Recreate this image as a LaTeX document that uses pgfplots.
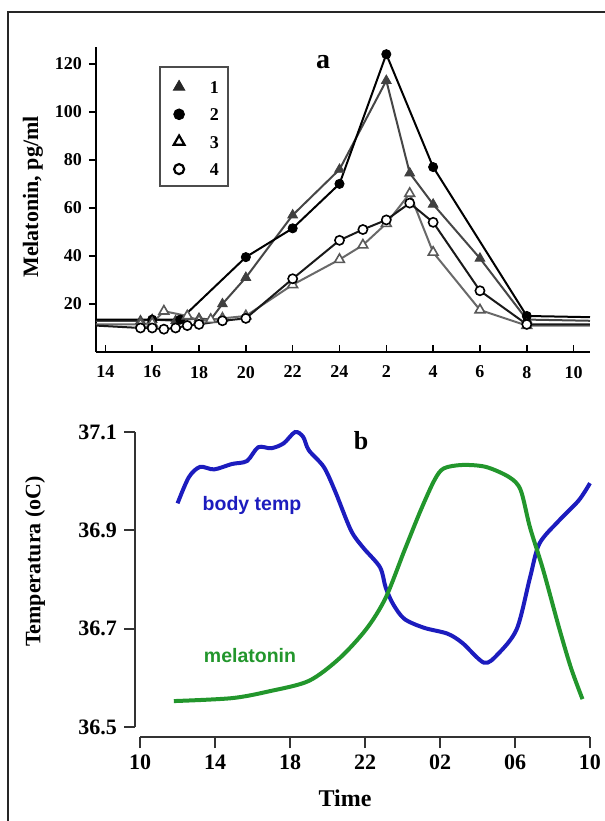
\documentclass[border=0pt]{standalone}
\usepackage{fontspec}
\setmainfont{Liberation Serif}
\newfontfamily\arial{Liberation Sans}
\usepackage{pgfplots}
\usepackage{pgfplotstable}
\pgfplotsset{compat=1.18}

\definecolor{tempblue}{RGB}{28,28,190}
\definecolor{melgreen}{RGB}{34,150,44}
\definecolor{lineA}{RGB}{70,70,70}
\definecolor{lineC}{RGB}{105,105,105}

% panel a: melatonin, pg/ml (x in hours, 26 = 02 h next day)
\pgfplotstableread{
x y
13.6 13
15.5 13
16 13.5
17 13
18 14
18.5 13.5
19 20
20 31
22 57
24 76
26 113
27 74.5
28 61.5
30 39
32 13.5
34.7 13
}\sA
\pgfplotstableread{
x y
13.6 13.5
16 13.5
17.2 13.5
20 39.5
22 51.5
24 70
26 124
28 77
32 15
34.7 14.5
}\sB
\pgfplotstableread{
x y
13.6 11.5
15.5 11.5
16 12
16.5 17
17.5 15
18 13
18.5 13.5
19 14
20 15
22 28
24 38.5
25 44.5
26 53.5
27 66
28 41.5
30 17.5
32 11
34.7 11
}\sC
\pgfplotstableread{
x y
13.6 11
15.5 10
16 10
16.5 9.5
17 10
17.5 11
18 11.5
19 13
20 14
22 30.5
24 46.5
25 51
26 55
27 62
28 54
30 25.5
32 11.5
34.7 11.5
}\sD

% panel b: body temperature and melatonin curve
\pgfplotstableread{
x y
12.0 36.955
12.6 37.008
13.2 37.029
13.95 37.024
14.9 37.035
15.7 37.041
16.3 37.069
17.0 37.067
17.66 37.077
18.27 37.100
18.7 37.090
19.0 37.063
19.8 37.029
20.4 36.980
21.25 36.900
21.9 36.865
22.8 36.825
23.1 36.784
23.5 36.750
24.1 36.720
25.15 36.702
26.4 36.690
27.2 36.671
28.35 36.631
29.1 36.649
30.1 36.700
30.8 36.804
31.3 36.873
32.35 36.920
33.4 36.961
34.0 36.996
}\temp
\pgfplotstableread{
x y
11.8 36.553
14.9 36.559
16.9 36.573
19.0 36.594
20.64 36.640
22.08 36.700
23.1 36.763
24.1 36.859
24.96 36.940
25.7 37.002
26.2 37.026
27.2 37.033
28.45 37.029
29.7 37.008
30.3 36.982
30.8 36.906
31.5 36.820
32.35 36.702
32.99 36.620
33.6 36.557
}\mel

\begin{document}
\begin{tikzpicture}[x=0.5pt,y=0.5pt]
\useasboundingbox (0,0) rectangle (605,821);
\draw[line width=1pt, black!85] (8,0) -- (8,809) -- (605,809);

\begin{axis}[
  at={(48pt,234.5pt)}, anchor=south west,
  scale only axis, width=247pt, height=152.5pt,
  xmin=13.6, xmax=34.7, ymin=0, ymax=127,
  axis x line*=bottom, axis y line*=left,
  axis line style={line width=1pt, black, -},
  xtick={14,16,...,34},
  xticklabels={14,16,18,20,22,24,2,4,6,8,10},
  ytick={20,40,...,120},
  tick align=outside,
  major tick length=3.5pt,
  tick style={line width=0.8pt, black},
  x tick style={yshift=3.5pt},
  ticklabel style={font=\bfseries\fontsize{9}{9}\selectfont},
  /pgf/number format/assume math mode=true,
  clip=false,
  legend style={at={(0.1457,0.9213)}, anchor=north west, draw=none, fill=none,
    inner sep=2.5pt, row sep=3.2pt, column sep=10.5pt,
    font=\bfseries\fontsize{9}{9}\selectfont,
    nodes={inner sep=2pt, text height=6.5pt, text depth=0pt}},
  legend cell align=left,
]
\addplot[lineA, line width=1pt, forget plot] table {\sA};
\addplot[black, line width=1pt, forget plot] table {\sB};
\addplot[lineC, line width=1pt, forget plot] table {\sC};
\addplot[black!90, line width=1pt, forget plot] table {\sD};
\addplot[only marks, mark=triangle*, mark size=2.8pt, mark options={fill=black!75, draw=black!75},
  restrict x to domain=15:33, forget plot] table {\sA};
\addplot[only marks, mark=*, mark size=2.3pt, mark options={fill=black, draw=black},
  restrict x to domain=15:33, forget plot] table {\sB};
\addplot[only marks, mark=triangle*, mark size=2.8pt, mark options={fill=white, draw=black!65, line width=0.8pt},
  restrict x to domain=15:33, forget plot] table {\sC};
\addplot[only marks, mark=*, mark size=2.3pt, mark options={fill=white, draw=black, line width=0.8pt},
  restrict x to domain=15:33, forget plot] table {\sD};
\addlegendimage{only marks, mark=triangle*, mark size=3.3pt, mark options={fill=black!85, draw=black!85}}
\addlegendentry{1}
\addlegendimage{only marks, mark=*, mark size=2.7pt, mark options={fill=black}}
\addlegendentry{2}
\addlegendimage{only marks, mark=triangle*, mark size=3.1pt, mark options={fill=white, draw=black, line width=1.1pt}}
\addlegendentry{3}
\addlegendimage{only marks, mark=*, mark size=2.5pt, mark options={fill=white, draw=black, line width=1.1pt}}
\addlegendentry{4}
\end{axis}
% legend frame
\draw[line width=0.8pt, black!70] (160,754) rectangle (228,635);

\begin{axis}[
  at={(67.5pt,42pt)}, anchor=south west,
  scale only axis, width=227.5pt, height=152.5pt,
  xmin=9.73, xmax=34, ymin=36.48, ymax=37.1,
  axis x line*=bottom, axis y line*=left,
  axis line style={draw=none},
  xtick={10,14,...,34},
  xticklabels={10,14,18,22,02,06,10},
  ytick={36.5,36.7,36.9,37.1},
  yticklabels={36.5,36.7,36.9,37.1},
  tick align=outside,
  major tick length=5.5pt,
  tick style={line width=1pt, black!80},
  ticklabel style={font=\bfseries\fontsize{11}{11}\selectfont},
  clip=false,
]
\draw[line width=1pt, black!80] (axis cs:10,36.48) -- (axis cs:34,36.48);
\draw[line width=1pt, black!80] (axis cs:9.73,36.5) -- (axis cs:9.73,37.1);
\addplot[tempblue, line width=2pt, smooth] table {\temp};
\addplot[melgreen, line width=2pt, smooth] table {\mel};
\end{axis}

\node[rotate=90, font=\bfseries\fontsize{11}{11}\selectfont] at (33,624) {Melatonin, pg/ml};
\node[rotate=90, font=\bfseries\fontsize{11}{11}\selectfont] at (35,259.5) {Temperatura (oC)};
\node[font=\bfseries\fontsize{12}{12}\selectfont] at (345,23) {Time};
\node[font=\bfseries\fontsize{14}{14}\selectfont] at (323,759) {a};
\node[font=\bfseries\fontsize{13}{13}\selectfont] at (361,380) {b};
\node[font=\arial\bfseries\fontsize{9.75}{9.75}\selectfont, text=tempblue] at (252,316) {body temp};
\node[font=\arial\bfseries\fontsize{9.75}{9.75}\selectfont, text=melgreen] at (250,165) {melatonin};
\end{tikzpicture}
\end{document}
